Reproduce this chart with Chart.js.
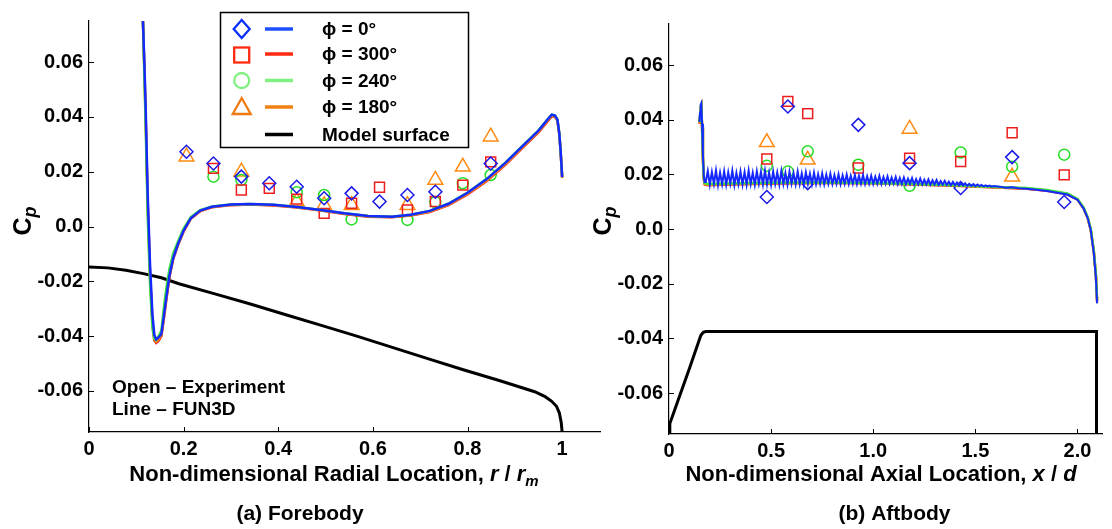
<!DOCTYPE html>
<html>
<head>
<meta charset="utf-8">
<script src="https://cdn.jsdelivr.net/npm/chart.js@4.4.1/dist/chart.umd.min.js"></script>
<style>
html, body { margin: 0; padding: 0; background: #fff; }
#wrap { position: relative; width: 1112px; height: 529px; overflow: hidden; }
#fore { position: absolute; left: 0; top: 0; }
#aft { position: absolute; left: 580px; top: 0; }
</style>
</head>
<body>
<div id="wrap">
  <canvas id="fore" width="610" height="529"></canvas>
  <canvas id="aft" width="532" height="529"></canvas>
</div>
<script>
// ---- tick labels ----
const yTicks = [-0.06, -0.04, -0.02, 0, 0.02, 0.04, 0.06];
const yLabels = ['-0.06', '-0.04', '-0.02', '0.0', '0.02', '0.04', '0.06'];
const foreXTicks = [0, 0.2, 0.4, 0.6, 0.8, 1];
const foreXLabels = ['0', '0.2', '0.4', '0.6', '0.8', '1'];
const aftXTicks = [0, 0.5, 1, 1.5, 2];
const aftXLabels = ['0', '0.5', '1.0', '1.5', '2.0'];
const legendLabels = ['\u03D5 = 0\u00B0', '\u03D5 = 300\u00B0', '\u03D5 = 240\u00B0', '\u03D5 = 180\u00B0', 'Model surface'];

// ---- forebody: experiment (open symbols) ----
const foreStations = [0.206, 0.263, 0.322, 0.381, 0.439, 0.497, 0.555, 0.614, 0.673, 0.732, 0.790, 0.849];
const foreExp0   = [0.0273, 0.0230, 0.0182, 0.0158, 0.0145, 0.0103, 0.0121, 0.0091, 0.0115, 0.0127, null, 0.0230];
const foreExp300 = [null, 0.0212, 0.0133, 0.0139, 0.0100, 0.0048, 0.0085, 0.0143, 0.0060, 0.0091, 0.0151, 0.0236];
const foreExp240 = [null, 0.0182, 0.0170, null, 0.0125, 0.0115, 0.0026, null, 0.0024, 0.0089, 0.0158, 0.0188];
const foreExp180 = [0.0255, null, 0.0200, null, 0.0091, 0.0078, 0.0078, null, 0.0078, 0.0170, 0.0218, 0.0328];

// ---- forebody: FUN3D lines ----
const foreCfdX = [0.114, 0.117, 0.120, 0.124, 0.129, 0.134, 0.138, 0.142, 0.147, 0.153, 0.158, 0.163, 0.170, 0.178,
  0.188, 0.200, 0.215, 0.235, 0.260, 0.300, 0.340, 0.390, 0.440, 0.490, 0.540, 0.590, 0.640, 0.680, 0.720, 0.760,
  0.800, 0.840, 0.880, 0.920, 0.950, 0.970, 0.978, 0.985, 0.990, 0.994, 0.997, 1.000];
const foreCfd0 = [0.075, 0.060, 0.042, 0.012, -0.014, -0.032, -0.0395, -0.0412, -0.0405, -0.0392, -0.033, -0.0265, -0.018, -0.0115,
  -0.0065, -0.0015, 0.0030, 0.0058, 0.0072, 0.0080, 0.0082, 0.0079, 0.0071, 0.0060, 0.0048, 0.0038, 0.0036, 0.0043, 0.0057, 0.0083,
  0.0123, 0.0172, 0.0232, 0.0300, 0.0350, 0.0392, 0.0408, 0.0405, 0.0390, 0.0340, 0.0270, 0.0180];
const foreCfd300 = [0.075, 0.058, 0.039, 0.009, -0.017, -0.035, -0.0415, -0.0425, -0.0418, -0.0400, -0.034, -0.0272, -0.0185, -0.0118,
  -0.0068, -0.0018, 0.0028, 0.0056, 0.0070, 0.0078, 0.0080, 0.0077, 0.0069, 0.0058, 0.0046, 0.0036, 0.0034, 0.0040, 0.0053, 0.0078,
  0.0117, 0.0165, 0.0225, 0.0293, 0.0343, 0.0385, 0.0402, 0.0400, 0.0386, 0.0336, 0.0266, 0.0178];
const foreCfd240 = [0.075, 0.055, 0.035, 0.004, -0.021, -0.037, -0.041, -0.0415, -0.0400, -0.0380, -0.030, -0.023, -0.0155, -0.0098,
  -0.0055, -0.0008, 0.0034, 0.0060, 0.0073, 0.0080, 0.0082, 0.0079, 0.0071, 0.0060, 0.0048, 0.0038, 0.0036, 0.0043, 0.0057, 0.0084,
  0.0124, 0.0173, 0.0233, 0.0301, 0.0351, 0.0393, 0.0408, 0.0405, 0.0390, 0.0340, 0.0270, 0.0180];
const foreCfd180 = [0.075, 0.057, 0.038, 0.008, -0.018, -0.035, -0.041, -0.042, -0.0412, -0.0396, -0.0335, -0.0268, -0.0182, -0.0116,
  -0.0067, -0.0017, 0.0029, 0.0057, 0.0071, 0.0079, 0.0081, 0.0078, 0.0070, 0.0059, 0.0047, 0.0037, 0.0035, 0.0041, 0.0055, 0.0080,
  0.0120, 0.0168, 0.0228, 0.0296, 0.0346, 0.0388, 0.0405, 0.0402, 0.0388, 0.0338, 0.0268, 0.0179];

// ---- forebody: model surface ----
const foreBodyX = [0, 0.04, 0.078, 0.115, 0.153, 0.19, 0.266, 0.341, 0.416, 0.491, 0.566, 0.641, 0.716, 0.791, 0.867,
  0.942, 0.964, 0.978, 0.988, 0.994, 0.998, 1.0];
const foreBodyY = [-0.0148, -0.0151, -0.016, -0.0172, -0.0187, -0.0209, -0.0246, -0.0283, -0.0322, -0.0361, -0.0400,
  -0.0441, -0.0482, -0.0523, -0.0562, -0.0603, -0.0621, -0.0638, -0.0656, -0.0680, -0.0715, -0.075];

// ---- aftbody: experiment ----
const aftStations = [0.479, 0.582, 0.679, 0.927, 1.178, 1.428, 1.680, 1.935];
const aftExp0   = [0.0117, 0.0448, 0.0168, 0.0381, 0.0241, 0.0150, 0.0263, 0.0099];
const aftExp300 = [0.0256, 0.0467, 0.0422, 0.0223, 0.0259, 0.0247, 0.0352, 0.0198];
const aftExp240 = [0.0231, 0.0210, 0.0284, 0.0235, 0.0158, 0.0280, 0.0228, 0.0272];
const aftExp180 = [0.0317, null, 0.0253, null, 0.0366, null, 0.0191, null];

// ---- aftbody: FUN3D lines ----
const aftCfdX = [0.149, 0.152, 0.155, 0.158, 0.162, 0.166, 0.170, 0.175, 0.19, 0.25, 0.40, 0.60, 0.80, 1.00, 1.20,
  1.40, 1.60, 1.75, 1.85, 1.95, 2.00, 2.03, 2.05, 2.065, 2.08, 2.09, 2.096];
const aftCfd300 = [0.0385, 0.0410, 0.0440, 0.0448, 0.0370, 0.0260, 0.0185, 0.0163, 0.0160, 0.0162, 0.0165, 0.0167, 0.0168, 0.0167, 0.0163,
  0.0158, 0.0152, 0.0147, 0.0140, 0.0127, 0.0108, 0.0075, 0.0040, -0.0005, -0.0085, -0.0170, -0.0265];
const aftCfd240 = [0.0390, 0.0418, 0.0448, 0.0453, 0.0375, 0.0265, 0.0190, 0.0168, 0.0165, 0.0166, 0.0168, 0.0170, 0.0170, 0.0168, 0.0165,
  0.0160, 0.0154, 0.0150, 0.0143, 0.0130, 0.0110, 0.0078, 0.0043, 0.0000, -0.0080, -0.0165, -0.0260];
const aftCfd180 = [0.0387, 0.0413, 0.0443, 0.0450, 0.0372, 0.0262, 0.0187, 0.0165, 0.0162, 0.0164, 0.0166, 0.0168, 0.0169, 0.0167, 0.0164,
  0.0159, 0.0153, 0.0148, 0.0141, 0.0128, 0.0109, 0.0076, 0.0041, -0.0003, -0.0083, -0.0168, -0.0263];

// phi = 0 solution is noisy along the aftbody
const aftCfd0X = [0.149, 0.152, 0.155, 0.158, 0.162, 0.166, 0.170, 0.174,
  .18, .19, .20, .21, .22, .23, .24, .25, .26, .27,
  .28, .29, .30, .31, .32, .33, .34, .35, .36, .37,
  .38, .39, .40, .41, .42, .43, .44, .45, .46, .47,
  .48, .49, .50, .51, .52, .53, .54, .55, .56, .57,
  .58, .59, .60, .61, .62, .63, .64, .65, .66, .67,
  .68, .69, .70, .71, .72, .73, .74, .75, .76, .77,
  .78, .79, .80, .81, .82, .83, .84, .85, .86, .87,
  .88, .89, .90, .91, .92, .93, .94, .95, .96, .97,
  .98, .99, 1.00, 1.01, 1.02, 1.03, 1.04, 1.05, 1.06, 1.07,
  1.08, 1.09, 1.10, 1.11, 1.12, 1.13, 1.14, 1.15, 1.16, 1.17,
  1.18, 1.19, 1.20, 1.21, 1.22, 1.23, 1.24, 1.25, 1.26, 1.27,
  1.28, 1.29, 1.30, 1.31, 1.32, 1.33, 1.34, 1.35, 1.36, 1.37,
  1.38, 1.39, 1.40, 1.41, 1.42, 1.43, 1.44, 1.45, 1.46, 1.47,
  1.48, 1.49, 1.50, 1.51, 1.52, 1.53, 1.54, 1.55, 1.56, 1.57,
  1.58, 1.59,
  1.62, 1.65, 1.68, 1.71, 1.75, 1.80, 1.85, 1.90, 1.95, 2.00, 2.03, 2.05, 2.065, 2.08, 2.09, 2.096];
const aftCfd0 = [0.0392, 0.0425, 0.0455, 0.0460, 0.0385, 0.0275, 0.0200, 0.0172,
  0.0172, 0.0212, 0.0162, 0.0208, 0.0165, 0.0214, 0.0161, 0.0206, 0.0164, 0.0211,
  0.0162, 0.0207, 0.0166, 0.0213, 0.0161, 0.0205, 0.0165, 0.0210, 0.0163, 0.0208,
  0.0162, 0.0214, 0.0165, 0.0206, 0.0162, 0.0211, 0.0166, 0.0209, 0.0163, 0.0213,
  0.0164, 0.0206, 0.0162, 0.0210, 0.0166, 0.0207, 0.0163, 0.0212, 0.0165, 0.0205,
  0.0163, 0.0209, 0.0166, 0.0204, 0.0164, 0.0210, 0.0165, 0.0203, 0.0163, 0.0207,
  0.0166, 0.0202, 0.0164, 0.0206, 0.0165, 0.0200, 0.0166, 0.0203, 0.0164, 0.0199,
  0.0166, 0.0202, 0.0165, 0.0197, 0.0166, 0.0200, 0.0164, 0.0196, 0.0166, 0.0199,
  0.0165, 0.0195, 0.0166, 0.0198, 0.0165, 0.0194, 0.0166, 0.0197, 0.0165, 0.0193,
  0.0166, 0.0195, 0.0165, 0.0191, 0.0166, 0.0194, 0.0165, 0.0190, 0.0166, 0.0192,
  0.0165, 0.0188, 0.0166, 0.0190, 0.0164, 0.0186, 0.0165, 0.0188, 0.0164, 0.0184,
  0.0165, 0.0186, 0.0163, 0.0182, 0.0164, 0.0184, 0.0163, 0.0180, 0.0163, 0.0181,
  0.0162, 0.0178, 0.0163, 0.0179, 0.0161, 0.0175, 0.0162, 0.0176, 0.0161, 0.0173,
  0.0160, 0.0172, 0.0160, 0.0170, 0.0159, 0.0168, 0.0159, 0.0167, 0.0158, 0.0165,
  0.0158, 0.0164, 0.0157, 0.0163, 0.0157, 0.0161, 0.0156, 0.0160, 0.0156, 0.0159,
  0.0155, 0.0157,
  0.0155, 0.0151, 0.0153, 0.0149, 0.0147, 0.0144, 0.0139, 0.0133, 0.0126, 0.0107, 0.0075, 0.0040, -0.0004, -0.0088, -0.0175, -0.0272];

// ---- aftbody: model surface ----
const aftBodyX = [0, 0.004, 0.045, 0.10, 0.156, 0.168, 0.18, 2.093, 2.093];
const aftBodyY = [-0.075, -0.0712, -0.0626, -0.0510, -0.0389, -0.0378, -0.0375, -0.0375, -0.075];

const FONT = '"Liberation Sans", Arial, Helvetica, sans-serif';
const BLUE = '#1428ff', RED = '#ee1c1c', GREEN = '#3ee23e', ORANGE = '#ff8a10';

function pts(xs, ys) {
  return xs.map((x, i) => ({ x: x, y: ys[i] })).filter(p => p.y !== null);
}

function cfdLine(xs, ys, color, order, width) {
  return { data: pts(xs, ys), showLine: true, borderColor: color, borderWidth: width || 2.5,
    pointRadius: 0, order: order };
}

function expSet(xs, ys, color, style, radius) {
  return { data: pts(xs, ys), showLine: false, pointStyle: style, pointRadius: radius,
    pointBorderWidth: 1.5, borderColor: color, pointBorderColor: color,
    pointBackgroundColor: 'rgba(0,0,0,0)', backgroundColor: 'rgba(0,0,0,0)', order: 5 };
}

function drawRich(ctx, parts, x, y, align) {
  let w = 0;
  parts.forEach(p => { ctx.font = p.font; w += ctx.measureText(p.text).width; });
  let cx = align === 'center' ? x - w / 2 : x;
  parts.forEach(p => {
    ctx.font = p.font;
    ctx.fillText(p.text, cx, y + (p.dy || 0));
    cx += ctx.measureText(p.text).width;
  });
}

function makeDecor(cfg) {
  return {
    id: 'decor',
    afterDraw(chart) {
      const ctx = chart.ctx, area = chart.chartArea;
      const xs = chart.scales.x, ys = chart.scales.y;
      ctx.save();
      // inward tick marks
      ctx.strokeStyle = '#000';
      ctx.lineWidth = 1;
      ys.ticks.forEach(t => {
        const py = Math.round(ys.getPixelForValue(t.value)) + 0.5;
        ctx.beginPath(); ctx.moveTo(area.left, py); ctx.lineTo(area.left + 5, py); ctx.stroke();
      });
      xs.ticks.forEach(t => {
        const px = Math.round(xs.getPixelForValue(t.value)) + 0.5;
        ctx.beginPath(); ctx.moveTo(px, area.bottom); ctx.lineTo(px, area.bottom - 5); ctx.stroke();
      });
      ctx.fillStyle = '#000';
      ctx.textBaseline = 'alphabetic';
      drawRich(ctx, cfg.xTitle, cfg.xTitleX, 481, 'center');
      drawRich(ctx, [{ text: cfg.caption, font: 'bold 21px ' + FONT }], cfg.capX, 520, 'center');
      if (cfg.extra) cfg.extra(ctx);
      ctx.translate(cfg.yTitleX, 221);
      ctx.rotate(-Math.PI / 2);
      drawRich(ctx, [{ text: 'C', font: 'bold 25px ' + FONT },
        { text: 'p', font: 'italic bold 18px ' + FONT, dy: 5 }], 0, 0, 'center');
      ctx.restore();
    }
  };
}

function drawForeLegend(ctx) {
  const rows = [29, 54, 80.5, 107, 134.5];
  const lineColors = ['#1e50ff', '#ff2a10', '#80f080', '#f08010', '#000'];
  ctx.lineWidth = 1.5;
  ctx.strokeStyle = '#000';
  ctx.strokeRect(220.5, 12.5, 248, 135);
  const mx = 241.7;
  ctx.lineWidth = 2.3;
  // diamond
  ctx.strokeStyle = '#0a2fff';
  ctx.beginPath();
  ctx.moveTo(mx, rows[0] - 9); ctx.lineTo(mx + 8, rows[0]); ctx.lineTo(mx, rows[0] + 9); ctx.lineTo(mx - 8, rows[0]);
  ctx.closePath(); ctx.stroke();
  // square
  ctx.strokeStyle = '#ff2a10';
  ctx.strokeRect(mx - 7.5, rows[1] - 6.5, 15, 15);
  // circle
  ctx.strokeStyle = '#80f080';
  ctx.beginPath(); ctx.arc(mx, rows[2], 7.5, 0, Math.PI * 2); ctx.stroke();
  // triangle
  ctx.strokeStyle = '#ee7a10';
  ctx.beginPath();
  ctx.moveTo(mx, rows[3] - 9); ctx.lineTo(mx + 9, rows[3] + 7); ctx.lineTo(mx - 9, rows[3] + 7);
  ctx.closePath(); ctx.stroke();
  ctx.lineWidth = 3.5;
  rows.forEach((y, i) => {
    ctx.strokeStyle = lineColors[i];
    ctx.beginPath(); ctx.moveTo(265, y); ctx.lineTo(293, y); ctx.stroke();
  });
  ctx.fillStyle = '#000';
  ctx.font = 'bold 19px ' + FONT;
  ctx.textBaseline = 'middle';
  rows.forEach((y, i) => ctx.fillText(legendLabels[i], 322, y + 1));
  ctx.textBaseline = 'alphabetic';
  ctx.fillText('Open \u2013 Experiment', 112, 393);
  ctx.fillText('Line \u2013 FUN3D', 112, 415);
}

function axisOpts(min, max, ticks, labels, fit) {
  return {
    type: 'linear', min: min, max: max,
    afterBuildTicks: s => { s.ticks = ticks.map(v => ({ value: v })); },
    afterFit: fit,
    grid: { display: false, drawTicks: false },
    border: { display: true, color: '#000', width: 1.2 },
    ticks: { callback: (v, i) => labels[i], color: '#000', autoSkip: false, maxRotation: 0,
      font: { family: FONT, size: 20, weight: 'bold' } }
  };
}

const tickFont = 'bold 22px ' + FONT;
const tickItal = 'italic bold 22px ' + FONT;

// ---- (a) forebody ----
const foreX = axisOpts(0, 1.08, foreXTicks, foreXLabels, s => { s.height = 97; });
foreX.ticks.padding = 5;
const foreY = axisOpts(-0.075, 0.075, yTicks, yLabels, s => { s.width = 89; });
foreY.ticks.padding = 6;

new Chart(document.getElementById('fore'), {
  type: 'scatter',
  data: {
    datasets: [
      cfdLine(foreCfdX, foreCfd0, BLUE, 0),
      cfdLine(foreCfdX, foreCfd240, GREEN, 1),
      cfdLine(foreCfdX, foreCfd180, ORANGE, 2),
      cfdLine(foreCfdX, foreCfd300, RED, 3),
      expSet(foreStations, foreExp0, '#1a1ae6', 'rectRot', 6.5),
      expSet(foreStations, foreExp300, RED, 'rect', 7),
      expSet(foreStations, foreExp240, '#22dd22', 'circle', 5.5),
      expSet(foreStations, foreExp180, ORANGE, 'triangle', 8.5),
      cfdLine(foreBodyX, foreBodyY, '#000', 8, 3)
    ]
  },
  options: {
    responsive: false, animation: false, events: [],
    layout: { padding: { top: 21, right: 9, left: 0, bottom: 0 } },
    plugins: { legend: { display: false }, tooltip: { enabled: false } },
    scales: { x: foreX, y: foreY }
  },
  plugins: [makeDecor({
    xTitle: [{ text: 'Non-dimensional Radial Location, ', font: tickFont }, { text: 'r', font: tickItal },
      { text: ' / ', font: tickFont }, { text: 'r', font: tickItal },
      { text: 'm', font: 'italic bold 15px ' + FONT, dy: 5 }],
    xTitleX: 334, caption: '(a) Forebody', capX: 300, yTitleX: 30.5, extra: drawForeLegend
  })]
});

// ---- (b) aftbody ----
const aftX = axisOpts(0, 2.12, aftXTicks, aftXLabels, s => { s.height = 95; });
aftX.ticks.padding = 5;
const aftY = axisOpts(-0.075, 0.075, yTicks, yLabels, s => { s.width = 89; });
aftY.ticks.padding = 6;

new Chart(document.getElementById('aft'), {
  type: 'scatter',
  data: {
    datasets: [
      cfdLine(aftCfd0X, aftCfd0, BLUE, 0, 2),
      cfdLine(aftCfdX, aftCfd240, GREEN, 1),
      cfdLine(aftCfdX, aftCfd180, ORANGE, 2),
      cfdLine(aftCfdX, aftCfd300, RED, 3),
      expSet(aftStations, aftExp0, '#1a1ae6', 'rectRot', 6.5),
      expSet(aftStations, aftExp300, RED, 'rect', 7),
      expSet(aftStations, aftExp240, '#22dd22', 'circle', 5.5),
      expSet(aftStations, aftExp180, ORANGE, 'triangle', 8.5),
      cfdLine(aftBodyX, aftBodyY, '#000', 8, 3)
    ]
  },
  options: {
    responsive: false, animation: false, events: [],
    layout: { padding: { top: 24, right: 1, left: 0, bottom: 0 } },
    plugins: { legend: { display: false }, tooltip: { enabled: false } },
    scales: { x: aftX, y: aftY }
  },
  plugins: [makeDecor({
    xTitle: [{ text: 'Non-dimensional Axial Location, ', font: tickFont }, { text: 'x', font: tickItal },
      { text: ' / ', font: tickFont }, { text: 'd', font: tickItal }],
    xTitleX: 301, caption: '(b) Aftbody', capX: 314.5, yTitleX: 31
  })]
});
</script>
</body>
</html>
